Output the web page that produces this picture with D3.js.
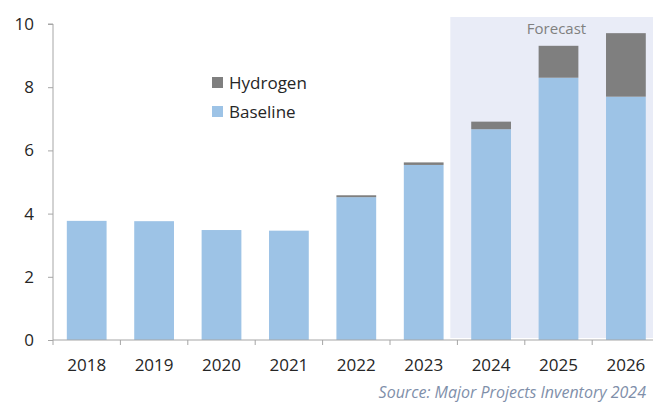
<!DOCTYPE html>
<html>
<head>
<meta charset="utf-8">
<script src="https://cdn.jsdelivr.net/npm/d3@7"></script>
<style>
  html, body { margin: 0; padding: 0; background: #fff; }
  svg { display: block; }
  text { font-family: "Open Sans", "Noto Sans", sans-serif; }
</style>
</head>
<body>
<svg id="chart" width="653" height="403"></svg>
<script>
// Annual investment, stacked: baseline projects plus hydrogen projects
const years = ["2018", "2019", "2020", "2021", "2022", "2023", "2024", "2025", "2026"];
const baseline = [3.77, 3.76, 3.48, 3.46, 4.52, 5.54, 6.67, 8.30, 7.70];
const hydrogen = [0.00, 0.00, 0.00, 0.00, 0.06, 0.08, 0.24, 1.01, 2.01];
const forecastYears = ["2024", "2025", "2026"];
const yTicks = [0, 2, 4, 6, 8, 10];

const seriesNames = ["Baseline", "Hydrogen"];
const colors = { Baseline: "#9DC3E6", Hydrogen: "#7F7F7F" };

const svg = d3.select("#chart");
const margin = { left: 53, top: 24, bottom: 63 };
const height = 403;
const bandStep = 67.4;

const x = d3.scaleBand()
  .domain(years)
  .range([margin.left, margin.left + bandStep * years.length])
  .paddingInner(0.41)
  .paddingOuter(0.205);

const y = d3.scaleLinear()
  .domain([0, 10])
  .range([height - margin.bottom, margin.top]);

// Forecast shading behind the last three years
const fStart = x(forecastYears[0]) - x.step() * 0.31;
svg.append("rect")
  .attr("x", fStart)
  .attr("y", 17)
  .attr("width", 700 - fStart)
  .attr("height", y(0) - 2 - 17)
  .attr("fill", "#E9ECF7");

svg.append("text")
  .attr("x", (x(forecastYears[1]) + x.bandwidth() / 2) - 2)
  .attr("y", 34)
  .attr("text-anchor", "middle")
  .attr("font-size", 15)
  .attr("fill", "#808080")
  .text("Forecast");

// Stacked bars
const rows = years.map((yr, i) => ({ year: yr, Baseline: baseline[i], Hydrogen: hydrogen[i] }));
const stack = d3.stack().keys(seriesNames)(rows);

svg.append("g")
  .selectAll("g")
  .data(stack)
  .join("g")
  .attr("fill", d => colors[d.key])
  .selectAll("rect")
  .data(d => d.filter(p => p[1] - p[0] > 0))
  .join("rect")
  .attr("x", d => x(d.data.year))
  .attr("y", d => y(d[1]))
  .attr("width", x.bandwidth())
  .attr("height", d => y(d[0]) - y(d[1]));

// Axes
const axisColor = "#A6A6A6";
const yAxis = svg.append("g")
  .attr("transform", `translate(${margin.left},0)`)
  .call(d3.axisLeft(y).tickValues(yTicks).tickSize(5).tickPadding(14).tickFormat(d3.format("d")));
yAxis.select(".domain").attr("stroke", axisColor).attr("d", `M-5,${y(10)}H0V${y(0)}`);
yAxis.selectAll(".tick line").attr("stroke", axisColor);
yAxis.selectAll(".tick text").attr("font-size", 17).attr("fill", "#262626").attr("font-family", "Open Sans");

const xAxisG = svg.append("g")
  .attr("transform", `translate(0,${y(0)})`);
xAxisG.append("line")
  .attr("x1", margin.left).attr("x2", 700)
  .attr("stroke", axisColor);
xAxisG.selectAll(".sep")
  .data(years)
  .join("line")
  .attr("class", "sep")
  .attr("x1", d => x(d) - x.step() * x.paddingInner() / 2)
  .attr("x2", d => x(d) - x.step() * x.paddingInner() / 2)
  .attr("y1", 0).attr("y2", 5)
  .attr("stroke", axisColor);
xAxisG.selectAll(".lbl")
  .data(years)
  .join("text")
  .attr("class", "lbl")
  .attr("x", d => x(d) + x.bandwidth() / 2)
  .attr("y", 31)
  .attr("text-anchor", "middle")
  .attr("font-size", 17)
  .attr("fill", "#262626")
  .text(d => d);

// Legend
const legend = svg.append("g").attr("transform", "translate(212,0)");
const legendItems = [{ name: "Hydrogen", cy: 83 }, { name: "Baseline", cy: 112 }];
legend.selectAll("rect")
  .data(legendItems)
  .join("rect")
  .attr("x", 0)
  .attr("y", d => d.cy - 6)
  .attr("width", 11)
  .attr("height", 11)
  .attr("fill", d => colors[d.name]);
legend.selectAll("text")
  .data(legendItems)
  .join("text")
  .attr("x", 17)
  .attr("y", d => d.cy + 6)
  .attr("font-size", 17)
  .attr("fill", "#262626")
  .text(d => d.name);

// Source note
svg.append("text")
  .attr("x", 646)
  .attr("y", 398)
  .attr("text-anchor", "end")
  .attr("font-size", 16)
  .attr("font-style", "italic")
  .attr("fill", "#7F8FAA")
  .text("Source: Major Projects Inventory 2024");
</script>
</body>
</html>
